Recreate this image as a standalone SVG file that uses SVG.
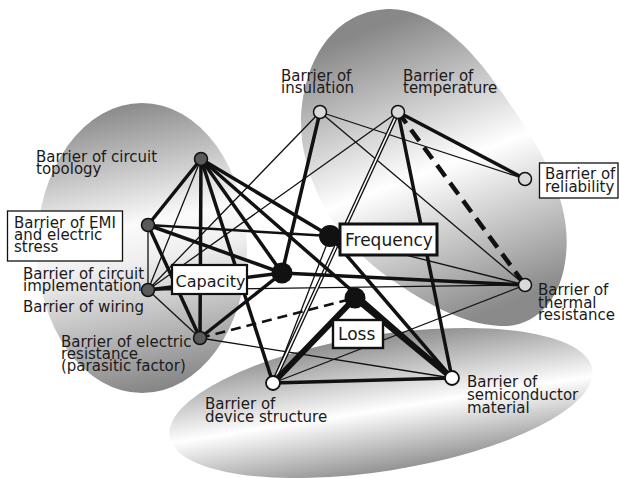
<svg xmlns="http://www.w3.org/2000/svg" width="619" height="478" viewBox="0 0 619 478">
<defs>
<linearGradient id="gLeft" x1="0.4" y1="0" x2="0.55" y2="1">
<stop offset="0" stop-color="#888888"/>
<stop offset="0.42" stop-color="#fbfbfb"/>
<stop offset="0.55" stop-color="#eeeeee"/>
<stop offset="1" stop-color="#848484"/>
</linearGradient>
<linearGradient id="gTop" gradientUnits="userSpaceOnUse" x1="370" y1="30" x2="480" y2="315">
<stop offset="0" stop-color="#888888"/>
<stop offset="0.5" stop-color="#ffffff"/>
<stop offset="1" stop-color="#8a8a8a"/>
</linearGradient>
<linearGradient id="gBot" x1="0" y1="0" x2="0" y2="1">
<stop offset="0" stop-color="#8c8c8c"/>
<stop offset="0.55" stop-color="#ffffff"/>
<stop offset="1" stop-color="#939393"/>
</linearGradient>
<style>
.c line{stroke:#111;fill:none}
.thick{stroke-width:3.5}
.med{stroke-width:2.5}
.thin{stroke-width:1.3}
.vthick{stroke-width:6}
.dashA{stroke-width:4.5;stroke-dasharray:14 8}
.dashB{stroke-width:2.5;stroke-dasharray:10 6}
.dblo{stroke-width:4.2}
.c line.dbli{stroke:#fff;stroke-width:1.6}
.gn{fill:#5a5a5a;stroke:#111;stroke-width:1.5}
.ln{fill:#d9d9d9;stroke:#111;stroke-width:1.5}
.wn{fill:#fff;stroke:#111;stroke-width:1.8}
.bn{fill:#111}
text{font-family:"DejaVu Sans","Liberation Sans",sans-serif;font-size:15px;fill:#1a1a1a}
.box{fill:#fff;stroke:#111;stroke-width:1.3}
.hbox{fill:#fff;stroke:#111;stroke-width:3}
.big{font-size:17px}
</style>
</defs>
<rect width="619" height="478" fill="#fff"/>
<g id="blobs">
<ellipse cx="142" cy="248" rx="105" ry="145" fill="url(#gLeft)"/>
<path d="M388,9 C430,8 470,45 500,90 C540,145 572,200 566,255 C562,300 535,328 500,326 C460,324 420,300 385,275 C345,245 310,200 302,140 C296,85 320,12 388,9 Z" fill="url(#gTop)"/>
<ellipse cx="0" cy="0" rx="214" ry="68" transform="translate(381,403) rotate(-9)" fill="url(#gBot)"/>
</g>
<g id="connectors" class="c">
<line class="thin" x1="148" y1="225" x2="148" y2="290"/>
<line class="thin" x1="201" y1="159" x2="148" y2="290"/>
<line class="thin" x1="148" y1="290" x2="320" y2="112"/>
<line class="thin" x1="148" y1="290" x2="398" y2="112"/>
<line class="thin" x1="148" y1="290" x2="525" y2="285"/>
<line class="thin" x1="148" y1="290" x2="200" y2="338"/>
<line class="thin" x1="320" y1="112" x2="525" y2="285"/>
<line class="thin" x1="320" y1="112" x2="525" y2="179"/>
<line class="thin" x1="330" y1="236" x2="525" y2="285"/>
<line class="thin" x1="273" y1="383" x2="525" y2="285"/>
<line class="thin" x1="200" y1="338" x2="452" y2="378"/>
<line class="thin" x1="330" y1="236" x2="273" y2="383"/>
<line class="dblo" x1="398" y1="112" x2="273" y2="383"/>
<line class="dbli" x1="398" y1="112" x2="273" y2="383"/>
<line class="med" x1="148" y1="225" x2="330" y2="236"/>
<line class="thick" x1="201" y1="159" x2="148" y2="225"/>
<line class="thick" x1="201" y1="159" x2="200" y2="338"/>
<line class="thick" x1="201" y1="159" x2="273" y2="383"/>
<line class="thick" x1="201" y1="159" x2="282" y2="273"/>
<line class="thick" x1="201" y1="159" x2="330" y2="236"/>
<line class="thick" x1="201" y1="159" x2="452" y2="378"/>
<line class="thick" x1="148" y1="225" x2="282" y2="273"/>
<line class="thick" x1="148" y1="225" x2="200" y2="338"/>
<line class="thick" x1="200" y1="338" x2="282" y2="273"/>
<line class="thick" x1="148" y1="290" x2="282" y2="273"/>
<line class="thick" x1="282" y1="273" x2="525" y2="285"/>
<line class="thick" x1="320" y1="112" x2="282" y2="273"/>
<line class="thick" x1="398" y1="112" x2="452" y2="378"/>
<line class="thick" x1="398" y1="112" x2="525" y2="179"/>
<line class="thick" x1="273" y1="383" x2="452" y2="378"/>
<line class="thick" x1="330" y1="236" x2="452" y2="378"/>
<line class="vthick" x1="355" y1="298" x2="273" y2="383"/>
<line class="vthick" x1="355" y1="298" x2="452" y2="378"/>
<line class="dashA" x1="398" y1="112" x2="525" y2="285"/>
<line class="dashB" x1="200" y1="338" x2="355" y2="298"/>
</g>
<g id="node-topology">
<circle class="gn" cx="201" cy="159" r="6.5"/>
<text x="36" y="161.5">Barrier of circuit<tspan x="36" dy="12">topology</tspan></text>
</g>
<g id="node-emi">
<circle class="gn" cx="148" cy="225" r="6.5"/>
<rect class="box" x="7.5" y="211" width="115" height="50"/>
<text x="14" y="227.5">Barrier of EMI<tspan x="14" dy="12">and electric</tspan><tspan x="14" dy="12">stress</tspan></text>
</g>
<g id="node-implementation">
<circle class="gn" cx="148" cy="290" r="6.5"/>
<text x="23" y="279">Barrier of circuit<tspan x="23" dy="12">implementation</tspan><tspan x="23" dy="20.5">Barrier of wiring</tspan></text>
</g>
<g id="node-resistance">
<circle class="gn" cx="200" cy="338" r="6.5"/>
<text x="61" y="346.5">Barrier of electric<tspan x="61" dy="12">resistance</tspan><tspan x="61" dy="12">(parasitic factor)</tspan></text>
</g>
<g id="node-insulation">
<circle class="ln" cx="320" cy="112" r="6.5"/>
<text x="281" y="80.5">Barrier of<tspan x="281" dy="12.5">insulation</tspan></text>
</g>
<g id="node-temperature">
<circle class="ln" cx="398" cy="112" r="6.5"/>
<text x="403" y="80.5">Barrier of<tspan x="403" dy="12.5">temperature</tspan></text>
</g>
<g id="node-reliability">
<circle class="ln" cx="525" cy="179" r="6.5"/>
<rect class="box" x="539.5" y="163" width="78.5" height="35"/>
<text x="545" y="178.5">Barrier of<tspan x="545" dy="13">reliability</tspan></text>
</g>
<g id="node-thermal">
<circle class="ln" cx="525" cy="285" r="6.5"/>
<text x="538" y="295">Barrier of<tspan x="538" dy="12.5">thermal</tspan><tspan x="538" dy="12.5">resistance</tspan></text>
</g>
<g id="node-device">
<circle class="wn" cx="273" cy="383" r="7"/>
<text x="205" y="409">Barrier of<tspan x="205" dy="12.5">device structure</tspan></text>
</g>
<g id="node-semiconductor">
<circle class="wn" cx="452" cy="378" r="7"/>
<text x="467" y="387">Barrier of<tspan x="467" dy="13">semiconductor</tspan><tspan x="467" dy="12.5">material</tspan></text>
</g>
<g id="node-frequency">
<circle class="bn" cx="330" cy="236" r="11"/>
<rect class="hbox" x="340" y="224" width="97" height="31"/>
<text class="big" x="345" y="246">Frequency</text>
</g>
<g id="node-capacity">
<circle class="bn" cx="282" cy="273" r="10.5"/>
<rect class="hbox" x="172" y="265" width="75" height="29" style="stroke-width:2.2"/>
<text x="175.5" y="286.5" style="font-size:16px">Capacity</text>
</g>
<g id="node-loss">
<circle class="bn" cx="355" cy="298" r="10.5"/>
<rect class="hbox" x="333" y="320" width="50" height="28" style="stroke-width:2.4"/>
<text class="big" x="338" y="339.5">Loss</text>
</g>
</svg>
